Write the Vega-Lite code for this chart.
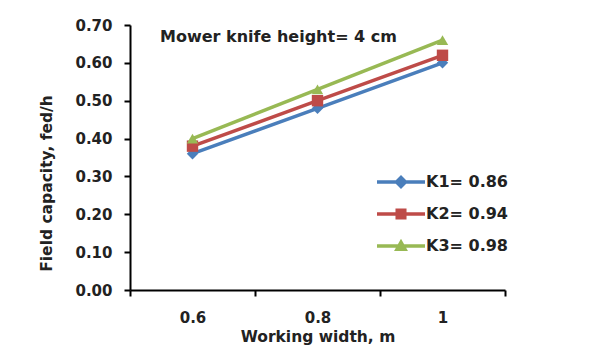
{
  "$schema": "https://vega.github.io/schema/vega-lite/v6.json",
  "autosize": "none",
  "width": 375,
  "height": 265,
  "padding": {"left": 130, "top": 25, "right": 89, "bottom": 55},
  "background": "white",
  "title": {"text": "Mower knife height= 4 cm", "anchor": "start", "frame": "group", "dx": 30, "dy": 27, "offset": 0, "baseline": "top", "font": "DejaVu Sans", "fontSize": 16, "fontWeight": "bold", "color": "#222"},
  "data": {"values": [
    {"w": 0.6, "fc": 0.36, "k": "K1= 0.86"},
    {"w": 0.8, "fc": 0.48, "k": "K1= 0.86"},
    {"w": 1.0, "fc": 0.60, "k": "K1= 0.86"},
    {"w": 0.6, "fc": 0.38, "k": "K2= 0.94"},
    {"w": 0.8, "fc": 0.50, "k": "K2= 0.94"},
    {"w": 1.0, "fc": 0.62, "k": "K2= 0.94"},
    {"w": 0.6, "fc": 0.40, "k": "K3= 0.98"},
    {"w": 0.8, "fc": 0.53, "k": "K3= 0.98"},
    {"w": 1.0, "fc": 0.66, "k": "K3= 0.98"}
  ]},
  "encoding": {
    "x": {"field": "w", "type": "quantitative", "scale": {"domain": [0.5, 1.1], "nice": false, "zero": false},
      "axis": {"title": "Working width, m", "values": [0.5, 0.6, 0.7, 0.8, 0.9, 1, 1.1], "grid": false, "format": "~g",
        "labelExpr": "(datum.value == 0.6 || datum.value == 0.8 || datum.value == 1) ? datum.label : ''",
        "tickOpacity": {"condition": {"test": "datum.value == 0.6 || datum.value == 0.8 || datum.value == 1", "value": 0}, "value": 1},
        "labelPadding": 14, "titleY": 39, "titleBaseline": "top", "labelFlush": false}},
    "y": {"field": "fc", "type": "quantitative", "scale": {"domain": [0, 0.7], "nice": false},
      "axis": {"title": "Field capacity,  fed/h", "values": [0, 0.1, 0.2, 0.3, 0.4, 0.5, 0.6, 0.7], "format": ".2f", "grid": false,
        "labelPadding": 12, "titleX": -84, "titleY": 158, "titleAlign": "center", "titleBaseline": "middle"}}
  },
  "layer": [
    {"mark": {"type": "line", "strokeWidth": 3.5},
     "encoding": {"color": {"field": "k", "type": "nominal", "legend": null,
       "scale": {"domain": ["K1= 0.86", "K2= 0.94", "K3= 0.98"], "range": ["#4a7ebb", "#be4b48", "#98b954"]}}}},
    {"mark": {"type": "point", "filled": true, "opacity": 1, "size": 130},
     "encoding": {"color": {"field": "k", "type": "nominal", "legend": null,
       "scale": {"domain": ["K1= 0.86", "K2= 0.94", "K3= 0.98"], "range": ["#4a7ebb", "#be4b48", "#98b954"]}},
      "shape": {"field": "k", "type": "nominal", "legend": null,
       "scale": {"domain": ["K1= 0.86", "K2= 0.94", "K3= 0.98"], "range": ["diamond", "square", "triangle-up"]}}}},
    {"mark": {"type": "point", "filled": true, "opacity": 1, "size": 0, "strokeWidth": 0},
     "encoding": {"color": {"field": "k", "type": "nominal",
       "scale": {"domain": ["K1= 0.86", "K2= 0.94", "K3= 0.98"], "range": ["#4a7ebb", "#be4b48", "#98b954"]},
       "legend": {"title": null, "orient": "none", "legendX": 247, "legendY": 133, "symbolSize": 2304, "symbolStrokeWidth": 0, "labelOffset": 1, "rowPadding": 0, "labelFont": "DejaVu Sans", "labelFontSize": 16, "labelFontWeight": "bold", "labelColor": "#222"}},
      "shape": {"field": "k", "type": "nominal",
       "scale": {"domain": ["K1= 0.86", "K2= 0.94", "K3= 0.98"], "range": [
         "M-1,-0.07H1V0.07H-1Z M0,-0.29L0.29,0L0,0.29L-0.29,0Z",
         "M-1,-0.07H1V0.07H-1Z M-0.23,-0.23H0.23V0.23H-0.23Z",
         "M-1,-0.07H1V0.07H-1Z M0,-0.3L0.29,0.21L-0.29,0.21Z"]},
       "legend": {"title": null, "orient": "none", "legendX": 247, "legendY": 133, "symbolSize": 2304, "symbolStrokeWidth": 0, "labelOffset": 1, "rowPadding": 0, "labelFont": "DejaVu Sans", "labelFontSize": 16, "labelFontWeight": "bold", "labelColor": "#222"}}}}
  ],
  "resolve": {"scale": {"color": "independent", "shape": "independent"}},
  "config": {
    "view": {"stroke": null},
    "axis": {"domainColor": "#000", "domainWidth": 2, "tickColor": "#000", "tickWidth": 2, "tickSize": 6,
      "labelFont": "DejaVu Sans", "labelFontSize": 15, "labelFontWeight": "bold", "labelColor": "#222",
      "titleFont": "DejaVu Sans", "titleFontSize": 15.5, "titleFontWeight": "bold", "titleColor": "#222"}
  }
}
